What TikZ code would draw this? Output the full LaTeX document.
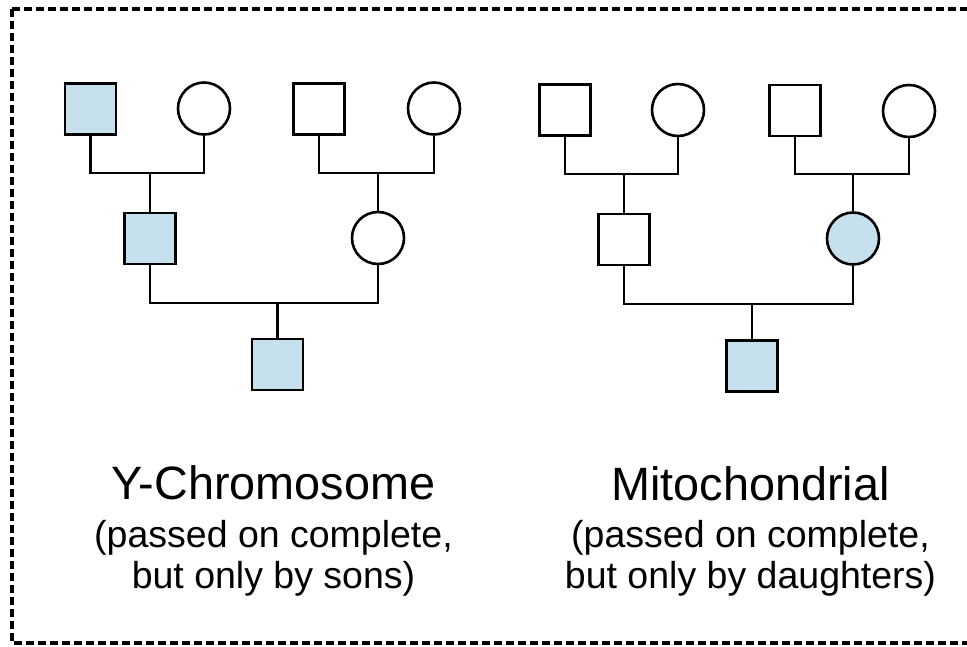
\documentclass[tikz,border=0pt]{standalone}
\usepackage{fontspec}
\setmainfont{Liberation Sans}
\definecolor{affected}{RGB}{198,224,237}
\begin{document}
\begin{tikzpicture}[x=1pt,y=-1pt,
  person/.style={draw=black,line width=2.6pt,inner sep=0pt,minimum size=51pt},
  male/.style={person,rectangle},
  female/.style={person,circle,minimum size=52pt},
  aff/.style={fill=affected},
  link/.style={draw=black,line width=2.6pt},
  title/.style={anchor=base,font=\fontsize{46.8}{50}\selectfont},
  sub/.style={anchor=base,font=\fontsize{37.5}{41}\selectfont}]
\useasboundingbox (0,0) rectangle (967,647);
\draw[line width=3.4pt,dash pattern=on 8pt off 4pt] (12,9) rectangle (990,643);
% Y-chromosome tree
\node[male,aff] (A) at (90.5,109) {};
\node[female] (B) at (204,108.5) {};
\node[male] (C) at (319,109) {};
\node[female] (D) at (434,108.5) {};
\node[male,aff] (E) at (150,238.5) {};
\node[female] (F) at (378,238) {};
\node[male,aff] (G) at (277.5,364.5) {};
\coordinate (jAB) at (150,173);
\coordinate (jCD) at (378,173);
\coordinate (jEF) at (277.5,303);
\draw[link] (A.south) |- (jAB) -| (B.south);
\draw[link] (jAB) -- (jAB |- E.north);
\draw[link] (C.south) |- (jCD) -| (D.south);
\draw[link] (jCD) -- (jCD |- F.north);
\draw[link] (E.south) |- (jEF) -| (F.south);
\draw[link] (jEF) -- (jEF |- G.north);
% Mitochondrial tree
\node[male] (A2) at (565,110) {};
\node[female] (B2) at (678,110) {};
\node[male] (C2) at (795,110.5) {};
\node[female] (D2) at (909,111) {};
\node[male] (E2) at (624,239.5) {};
\node[female,aff] (F2) at (853,238.5) {};
\node[male,aff] (G2) at (752,366) {};
\coordinate (jAB2) at (624,174);
\coordinate (jCD2) at (853,174);
\coordinate (jEF2) at (752,304);
\draw[link] (A2.south) |- (jAB2) -| (B2.south);
\draw[link] (jAB2) -- (jAB2 |- E2.north);
\draw[link] (C2.south) |- (jCD2) -| (D2.south);
\draw[link] (jCD2) -- (jCD2 |- F2.north);
\draw[link] (E2.south) |- (jEF2) -| (F2.south);
\draw[link] (jEF2) -- (jEF2 |- G2.north);
% Labels
\node[title] (t1) at (273.5,499) {Y-Chromosome};
\node[sub] (s1a) at (273.5,547) {(passed on complete,};
\node[sub] (s1b) at (273.5,588) {but only by sons)};
\node[title] (t2) at (750.5,500) {Mitochondrial};
\node[sub] (s2a) at (750.5,547) {(passed on complete,};
\node[sub] (s2b) at (750.5,588) {but only by daughters)};
\end{tikzpicture}
\end{document}
